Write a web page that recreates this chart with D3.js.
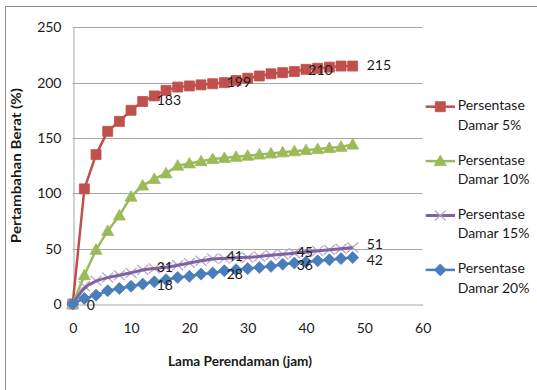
<!DOCTYPE html>
<html>
<head>
<meta charset="utf-8">
<script src="https://cdn.jsdelivr.net/npm/d3@7"></script>
<style>
  html, body { margin: 0; padding: 0; background: #fff; }
  svg { display: block; }
  text { font-family: Lato, "Open Sans", sans-serif; fill: #1a1a1a; }
</style>
</head>
<body>
<svg id="chart" width="537" height="390"></svg>
<script>
// Soaking time (hours)
const hours = [0,2,4,6,8,10,12,14,16,18,20,22,24,26,28,30,32,34,36,38,40,42,44,46,48];

// Weight gain (%) per resin concentration
const damar5  = [0,104,135,156,165,175,183,188,193,196,197,198,199,200,202,204,206,208,209,210,212,213,214,215,215];
const damar10 = [0,26,49,66,80,97,107,113,118,125,127,129,131,132,133,134,135,136,137,138,139,140,141,142,144];
const damar15 = [0,16,21,24,26,28,31,32,33,35,37,39,41,41,42,42,43,44,45,46,47,48,49,50,51];
const damar20 = [0,5,8,12,14,16,18,20,22,24,25,27,28,30,31,32,33,34,36,37,38,39,40,41,42];

// Indices of points that carry a value label
const labels5  = [6, 12, 19, 24];
const labels15 = [6, 12, 18, 24];
const labels20 = [0, 6, 12, 18, 24];

const seriesNames = ["Persentase Damar 5%", "Persentase Damar 10%", "Persentase Damar 15%", "Persentase Damar 20%"];
const xTicks = [0,10,20,30,40,50,60];
const yTicks = [0,50,100,150,200,250];

const svg = d3.select("#chart");

// outer chart frame
svg.append("path")
  .attr("d", "M5.5,390 V6.5 H537")
  .attr("fill", "none").attr("stroke", "#8a8a8a").attr("stroke-width", 1);

const x = d3.scaleLinear().domain([0, 60]).range([72.7, 422.7]);
const y = d3.scaleLinear().domain([0, 250]).range([304, 27.3]);

// horizontal gridlines
svg.append("g")
  .selectAll("line").data(yTicks.slice(1)).join("line")
  .attr("x1", x(0)).attr("x2", x(60))
  .attr("y1", d => Math.round(y(d)) + 0.5).attr("y2", d => Math.round(y(d)) + 0.5)
  .attr("stroke", "#a6a6a6").attr("stroke-width", 1);

// axes
const yAxis = svg.append("g")
  .attr("transform", `translate(${Math.round(x(0)) + 0.5},0)`)
  .call(d3.axisLeft(y).tickValues(yTicks).tickSize(0).tickPadding(12));
const xAxis = svg.append("g")
  .attr("transform", `translate(0,${Math.round(y(0)) + 0.5})`)
  .call(d3.axisBottom(x).tickValues(xTicks).tickSize(0).tickPadding(19));
[yAxis, xAxis].forEach(g => {
  g.select(".domain").attr("stroke", "#a6a6a6");
  g.selectAll("text").style("font-family", "Lato, sans-serif").style("font-size", "14px").attr("fill", "#1a1a1a");
});

// axis titles
svg.append("text")
  .attr("x", 240).attr("y", 363).attr("text-anchor", "middle").attr("dominant-baseline", "middle")
  .style("font-size", "13px").style("font-weight", "bold")
  .attr("textLength", 144).attr("lengthAdjust", "spacingAndGlyphs")
  .text("Lama Perendaman (jam)");
svg.append("text")
  .attr("transform", `translate(18,${(y(0) + y(250)) / 2}) rotate(-90)`)
  .attr("text-anchor", "middle").attr("dominant-baseline", "middle")
  .style("font-size", "13.5px").style("font-weight", "bold")
  .attr("textLength", 155).attr("lengthAdjust", "spacingAndGlyphs")
  .text("Pertambahan Berat (%)");

// marker shapes
const markerPath = {
  square: "M-5,-5H5V5H-5Z",
  triangle: "M0,-6L6,4.5H-6Z",
  cross: "M-5.5,-5L5.5,5M-5.5,5L5.5,-5",
  diamond: "M0,-6L6,0L0,6L-6,0Z"
};

const series = [
  { values: damar5,  color: "#C0504D", marker: "square",   mfill: "#C0504D", mstroke: "#C0504D", curve: d3.curveLinear, labels: labels5,  nudge: 0 },
  { values: damar10, color: "#9BBB59", marker: "triangle", mfill: "#9BBB59", mstroke: "#9BBB59", curve: d3.curveLinear, labels: [],       nudge: 0 },
  { values: damar15, color: "#7F62A0", marker: "cross",    mfill: "none",    mstroke: "#B7A8CF", curve: d3.curveBasis,  labels: labels15, nudge: -1 },
  { values: damar20, color: "#4A7EBB", marker: "diamond",  mfill: "#4A7EBB", mstroke: "#4A7EBB", curve: d3.curveLinear, labels: labels20, nudge: 2 }
];

series.forEach(s => {
  const pts = hours.map((h, i) => [h, s.values[i]]);
  const g = svg.append("g");
  if (s.marker === "cross") {
    // markers first, smoothed line drawn over them
    g.selectAll("path.m").data(pts).join("path").attr("class", "m")
      .attr("d", markerPath.cross)
      .attr("transform", d => `translate(${x(d[0])},${y(d[1])})`)
      .attr("fill", "none").attr("stroke", s.mstroke).attr("stroke-width", 1.3);
    g.append("path").datum(pts)
      .attr("d", d3.line().x(d => x(d[0])).y(d => y(d[1])).curve(s.curve))
      .attr("fill", "none").attr("stroke", s.color).attr("stroke-width", 3);
  } else {
    g.append("path").datum(pts)
      .attr("d", d3.line().x(d => x(d[0])).y(d => y(d[1])).curve(s.curve))
      .attr("fill", "none").attr("stroke", s.color).attr("stroke-width", 2.5);
    g.selectAll("path.m").data(pts).join("path").attr("class", "m")
      .attr("d", markerPath[s.marker])
      .attr("transform", d => `translate(${x(d[0])},${y(d[1])})`)
      .attr("fill", s.mfill).attr("stroke", s.mstroke).attr("stroke-width", 0.8);
  }
});

// value labels, placed right of their points (slightly spread where two series run close)
series.forEach(s => {
  svg.append("g").selectAll("text").data(s.labels).join("text")
    .attr("x", i => x(hours[i]) + 14)
    .attr("y", i => y(s.values[i]) + s.nudge * (i === 24 ? 2 : 1))
    .attr("dominant-baseline", "middle")
    .style("font-size", "14px")
    .text(i => s.values[i]);
});

// legend
const legend = svg.append("g");
seriesNames.forEach((name, k) => {
  const s = series[k];
  const ly = 106.7 + k * 54.4;
  const row = legend.append("g");
  row.append("line").attr("x1", 425.7).attr("x2", 455).attr("y1", ly).attr("y2", ly)
    .attr("stroke", s.color).attr("stroke-width", k === 2 ? 3 : 2.5);
  row.append("path").attr("d", markerPath[s.marker])
    .attr("transform", `translate(440.3,${ly})`)
    .attr("fill", s.mfill).attr("stroke", s.mstroke).attr("stroke-width", s.marker === "cross" ? 1.3 : 0.8);
  const words = name.split(" ");
  row.append("text").attr("x", 457.7).attr("y", ly).attr("dominant-baseline", "middle")
    .style("font-size", "14px").text(words[0]);
  row.append("text").attr("x", 457.7).attr("y", ly + 19.3).attr("dominant-baseline", "middle")
    .style("font-size", "14px").text(words.slice(1).join(" "));
});
</script>
</body>
</html>
